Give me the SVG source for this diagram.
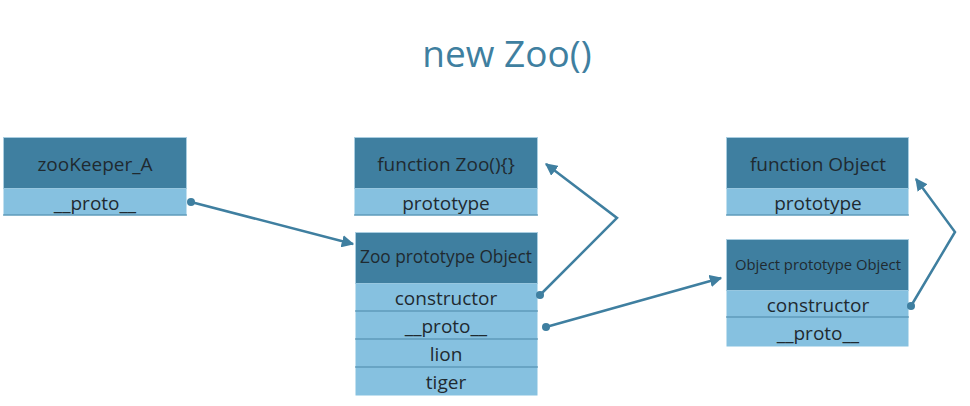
<svg xmlns="http://www.w3.org/2000/svg" width="970" height="406" viewBox="0 0 970 406">
<style>
.hd{fill:#3f7fa0;stroke:#a9cde0;stroke-width:1}
.rw{fill:#86c1e0}
.sep{stroke:#4a87a8;stroke-width:1.2}
.t{font-family:"Open Sans","Noto Sans",sans-serif;fill:#1f2a30;text-anchor:middle}
.c{stroke:#3f7fa0;stroke-width:2.5;fill:none}
.title{font-family:"Open Sans","Noto Sans",sans-serif;fill:#3f7fa0;font-size:37px;text-anchor:middle}
</style>
<defs>
<marker id="ah" viewBox="0 0 10 10" refX="9" refY="5" markerWidth="5" markerHeight="5" orient="auto" markerUnits="strokeWidth">
<path d="M0,0 L10,5 L0,10 z" fill="#3f7fa0"/>
</marker>
</defs>
<rect width="970" height="406" fill="#ffffff"/>
<text class="title" x="507" y="67">new Zoo()</text>

<g id="zooKeeper">
<rect class="hd" x="3.5" y="137.5" width="183" height="51"/>
<rect class="rw" x="3.5" y="188.5" width="183" height="27"/>
<line class="sep" x1="3" y1="215" x2="187" y2="215"/>
<text class="t" x="95" y="171" font-size="19">zooKeeper_A</text>
<text class="t" x="95" y="210" font-size="19">__proto__</text>
</g>

<g id="funcZoo">
<rect class="hd" x="354.5" y="137.5" width="183" height="51"/>
<rect class="rw" x="354.5" y="188.5" width="183" height="27"/>
<line class="sep" x1="354" y1="215" x2="538" y2="215"/>
<text class="t" x="446" y="171" font-size="19">function Zoo(){}</text>
<text class="t" x="446" y="210" font-size="19">prototype</text>
</g>

<g id="zooProto">
<rect class="hd" x="355.5" y="232.5" width="182" height="51"/>
<rect class="rw" x="355.5" y="283.5" width="182" height="112"/>
<line class="sep" x1="355" y1="311" x2="538" y2="311"/>
<line class="sep" x1="355" y1="339" x2="538" y2="339"/>
<line class="sep" x1="355" y1="367" x2="538" y2="367"/>
<text class="t" x="446" y="263" font-size="17.3">Zoo prototype Object</text>
<text class="t" x="446" y="305" font-size="19">constructor</text>
<text class="t" x="446" y="333" font-size="19">__proto__</text>
<text class="t" x="446" y="361" font-size="19">lion</text>
<text class="t" x="446" y="389" font-size="19">tiger</text>
</g>

<g id="funcObject">
<rect class="hd" x="726.5" y="137.5" width="182" height="51"/>
<rect class="rw" x="726.5" y="188.5" width="182" height="27"/>
<line class="sep" x1="726" y1="215" x2="909" y2="215"/>
<text class="t" x="818" y="171" font-size="19">function Object</text>
<text class="t" x="818" y="210" font-size="19">prototype</text>
</g>

<g id="objectProto">
<rect class="hd" x="726.5" y="239.5" width="182" height="51"/>
<rect class="rw" x="726.5" y="290.5" width="182" height="56"/>
<line class="sep" x1="726" y1="317" x2="909" y2="317"/>
<text class="t" x="818" y="270" font-size="14.8">Object prototype Object</text>
<text class="t" x="818" y="312" font-size="19">constructor</text>
<text class="t" x="818" y="340" font-size="19">__proto__</text>
</g>

<g id="connectors">
<circle cx="191" cy="202" r="4" fill="#3f7fa0"/>
<path class="c" d="M191,202 L353,244" marker-end="url(#ah)"/>
<circle cx="540" cy="295" r="4" fill="#3f7fa0"/>
<path class="c" d="M540,295 L617,218 L546,164" marker-end="url(#ah)"/>
<circle cx="546" cy="327" r="4" fill="#3f7fa0"/>
<path class="c" d="M546,327 L721,278" marker-end="url(#ah)"/>
<circle cx="911" cy="306" r="4" fill="#3f7fa0"/>
<path class="c" d="M911,306 L955,232 L916,179" marker-end="url(#ah)"/>
</g>
</svg>
